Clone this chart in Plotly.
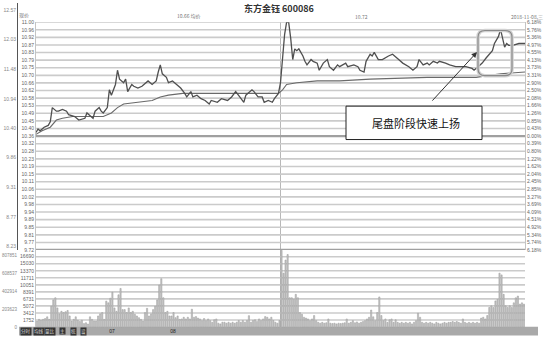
import plotly.graph_objects as go
import numpy as np

W, H = 545, 339

# ---------------- data ----------------
prev_close = 10.36
price_ticks_text = ["11.00", "10.96", "10.92", "10.87", "10.83", "10.79", "10.75", "10.70",
                    "10.66", "10.62", "10.58", "10.53", "10.49", "10.45", "10.40", "10.36",
                    "10.32", "10.28", "10.23", "10.19", "10.15", "10.11", "10.06", "10.02",
                    "9.98", "9.94", "9.89", "9.85", "9.81", "9.77", "9.72"]
pct_ticks_text = ["6.18%", "5.76%", "5.36%", "4.97%", "4.55%", "4.13%", "3.73%", "3.31%",
                  "2.90%", "2.50%", "2.08%", "1.66%", "1.26%", "0.85%", "0.43%", "0.00%",
                  "0.39%", "0.80%", "1.22%", "1.62%", "2.04%", "2.45%", "2.85%", "3.27%",
                  "3.69%", "4.09%", "4.51%", "4.92%", "5.34%", "5.74%", "6.18%"]
vol_ticks = [1752, 3412, 5072, 6731, 8391, 10051, 11711, 13370, 15030, 16690]
outer_price_ticks = [12.57, 12.03, 11.48, 10.94, 10.40, 9.86, 9.31, 8.77, 8.23]
outer_vol_ticks = [0, 203623, 402914, 608537, 807851]
time_tick_pos = [37.3, 67.2]
time_tick_text = ["07", "08"]

price_min = [0, 1, 2, 4, 6, 7, 8, 10, 11, 13, 15, 16, 19, 21, 24, 25, 27, 28, 29, 31, 32, 33, 35,
             36, 37, 39, 40, 41, 43, 44, 45, 47, 48, 50, 52, 54, 55, 57, 59, 60, 61, 62, 64, 65,
             67, 69, 71, 73, 74, 76, 77, 79, 81, 83, 85, 86, 89, 91, 94, 96, 98, 100, 102, 103,
             106, 107, 109, 111, 112, 114, 116, 117, 119,
             120, 121, 122, 123, 124, 125, 126, 127, 128, 129, 130, 131, 132, 133, 135, 136, 138,
             139, 141, 143, 144, 146, 148, 149, 152, 153, 156, 158, 159, 161, 162, 164, 165, 166,
             168, 170, 173, 175, 178, 180, 183, 185, 187, 188, 190, 192, 193, 195, 197, 198, 201,
             203, 206, 208, 211, 214, 215, 217, 219, 221, 224, 225, 227, 228, 229, 230, 231, 232,
             234, 237, 240]
price = [10.38, 10.40, 10.39, 10.41, 10.42, 10.44, 10.52, 10.50, 10.50, 10.51, 10.50, 10.48,
         10.47, 10.45, 10.46, 10.49, 10.47, 10.46, 10.50, 10.52, 10.50, 10.49, 10.52,
         10.62, 10.59, 10.65, 10.73, 10.68, 10.66, 10.68, 10.61, 10.65, 10.64, 10.63, 10.64,
         10.66, 10.67, 10.65, 10.67, 10.72, 10.76, 10.71, 10.69, 10.66, 10.67, 10.65, 10.63,
         10.60, 10.58, 10.61, 10.58, 10.59, 10.57, 10.56, 10.54, 10.56, 10.55, 10.57, 10.56,
         10.58, 10.61, 10.58, 10.55, 10.59, 10.62, 10.61, 10.58, 10.58, 10.55, 10.56, 10.55,
         10.57, 10.60,
         10.66, 10.82, 10.93, 11.00, 11.00, 10.91, 10.79, 10.85, 10.84, 10.85, 10.83, 10.81,
         10.78, 10.76, 10.79, 10.78, 10.77, 10.73, 10.77, 10.79, 10.75, 10.73, 10.76, 10.75,
         10.77, 10.75, 10.76, 10.75, 10.73, 10.72, 10.78, 10.82, 10.81, 10.83, 10.79, 10.79,
         10.81, 10.82, 10.79, 10.77, 10.75, 10.73, 10.75, 10.79, 10.76, 10.77, 10.76, 10.78,
         10.77, 10.78, 10.77, 10.76, 10.75, 10.75, 10.75, 10.74, 10.73, 10.75, 10.77, 10.80,
         10.84, 10.88, 10.92, 10.96, 10.90, 10.86, 10.88, 10.87, 10.87, 10.88, 10.88]

avg_min = [0, 3, 7, 10, 13, 18, 25, 33, 37, 40, 43, 49, 57, 61, 65, 72, 119, 121, 123, 128,
           138, 149, 164, 192, 216, 228, 240]
avg_price = [10.37, 10.39, 10.41, 10.45, 10.46, 10.47, 10.47, 10.47, 10.49, 10.52, 10.54,
             10.55, 10.56, 10.58, 10.59, 10.60, 10.60, 10.62, 10.65, 10.66, 10.67, 10.67,
             10.68, 10.69, 10.69, 10.71, 10.72]

volume = [1500, 1900, 1700, 1900, 2100, 2500, 1900, 5000, 6500, 7000,
          4600, 3200, 3800, 3500, 3700, 4000, 2700, 1500, 1900, 2500,
          1700, 1400, 1700, 900, 1100, 800, 2500, 1900, 1500, 1500,
          2700, 3200, 3500, 1900, 6200, 5800, 6900, 8300, 4600, 3800,
          7700, 9200, 4200, 4200, 3500, 4600, 3500, 3800, 3100, 2700,
          2300, 1900, 1500, 3500, 4500, 2700, 3200, 4200, 5000, 6500,
          10000, 11500, 7000, 3500, 3800, 2700, 2700, 3500, 2300, 2700,
          1900, 2000, 2400, 2000, 2400, 2000, 4300, 2400, 2550, 2200,
          2000, 1600, 2100, 1600, 2000, 1600, 1200, 1800, 2000, 1000,
          830, 1230, 1230, 1000, 1230, 1000, 1230, 1000, 1230, 1620,
          1230, 1620, 1230, 1620, 2780, 1230, 1620, 1800, 1400, 2000,
          1620, 2000, 2550, 2400, 2000, 2400, 1620, 1230, 1000, 1620,
          18200, 12800, 15900, 17200, 7000, 7000, 6600, 7800, 7000, 3500,
          3100, 2400, 2200, 2000, 1600, 2000, 2800, 1600, 1200, 1000,
          1200, 1000, 1100, 2000, 1000, 900, 1000, 830, 1000, 900,
          1000, 1100, 2000, 1000, 1200, 1600, 1100, 1300, 1000, 1200,
          1400, 1600, 2000, 2400, 4100, 2500, 1600, 3500, 7200, 2800,
          1600, 2000, 1200, 1800, 2000, 1200, 1800, 1200, 1000, 1200,
          1000, 1200, 1000, 1200, 830, 1200, 1600, 3350, 2400, 1200,
          1000, 1200, 1000, 1200, 1000, 830, 1200, 1000, 830, 1000,
          1200, 1000, 1200, 1200, 1400, 1200, 1400, 1200, 1000, 2000,
          1200, 1000, 1200, 1000, 1200, 1000, 1200, 1000, 2200, 2400,
          2000, 2800, 4700, 5100, 4700, 6260, 6600, 12800, 12400, 7800,
          5100, 4700, 5100, 4700, 5800, 7000, 7400, 5500, 5800, 5500]

# ---------------- helpers (pixel -> paper) ----------------
def px(x):
    return x / W


def py(y):
    return 1 - y / H


price_top, price_bot = 11.00, 9.72
price_tickvals = [float(v) for v in np.linspace(price_top, price_bot, len(price_ticks_text))]

# outer price axis mapping: 12.57 at y=7, 8.23 at y=248
op_slope = (12.57 - 8.23) / (248 - 7)
op_range = [12.57 - (251.5 - 7) * op_slope, 12.57 + 7 * op_slope]
# outer volume axis: 0 at y=330.6
ov_slope = (608537 - 203623) / (312 - 275)
ov_range = [-(339 - 330.6) * ov_slope, (330.6 - 251.5) * ov_slope]
# volume axis: 1752 at y=322.7, 1660 per 7.16px
v_per_px = 1660 / 7.16
vol_range = [1752 - (330.3 - 322.7) * v_per_px, 1752 + (322.7 - 251.5) * v_per_px]

GRID = "#cbcbcb"

fig = go.Figure()
for ax in ["y2", "y4", "y5"]:
    fig.add_trace(go.Scatter(x=[None], y=[None], xaxis="x", yaxis=ax, showlegend=False,
                             hoverinfo="skip"))
fig.add_trace(go.Bar(x=[m + 0.5 for m in range(len(volume))], y=volume, xaxis="x", yaxis="y3",
                     marker=dict(color="#c6c6c6", line=dict(color="#9a9a9a", width=0.5)),
                     width=0.6, hoverinfo="skip"))
fig.add_trace(go.Scatter(x=avg_min, y=avg_price, mode="lines", xaxis="x", yaxis="y",
                         line=dict(color="#6a6a6a", width=1.1), hoverinfo="skip"))
fig.add_trace(go.Scatter(x=price_min, y=price, mode="lines", xaxis="x", yaxis="y",
                         line=dict(color="#4f4f4f", width=1.3), hoverinfo="skip"))

lab_font = dict(family="Liberation Sans, Arial", size=5, color="#666")

fig.update_layout(
    width=W, height=H, margin=dict(l=0, r=0, t=0, b=0),
    paper_bgcolor="white", plot_bgcolor="rgba(0,0,0,0)", showlegend=False,
    xaxis=dict(domain=[px(36), px(525)], range=[0, 240], anchor="y3", showgrid=False,
               zeroline=False, showline=False, tickvals=time_tick_pos, ticktext=time_tick_text,
               ticks="", tickfont=dict(family="Liberation Sans", size=5, color="#222")),
    yaxis=dict(domain=[py(251.5), py(19.5)], range=[price_bot, price_top], anchor="x",
               tickvals=price_tickvals, ticktext=price_ticks_text, tickfont=lab_font,
               showgrid=False, zeroline=False,
               showline=True, linecolor="#c4c4c4", linewidth=1, ticks=""),
    yaxis2=dict(domain=[py(251.5), py(19.5)], range=[price_bot, price_top], anchor="x",
                overlaying="y", side="right", tickvals=price_tickvals, ticktext=pct_ticks_text,
                tickfont=lab_font, showgrid=False, zeroline=False, showline=True,
                linecolor="#c4c4c4", linewidth=1, ticks=""),
    yaxis3=dict(domain=[py(330.3), py(251.5)], range=vol_range, anchor="x",
                tickvals=vol_ticks, ticktext=[str(v) for v in vol_ticks], tickfont=lab_font,
                showgrid=False, zeroline=False, showline=True,
                linecolor="#c4c4c4", linewidth=1, ticks=""),
    yaxis4=dict(domain=[py(251.5), 1], range=op_range, anchor="free", position=px(17),
                tickvals=outer_price_ticks, ticktext=[f"{v:.2f}" for v in outer_price_ticks],
                tickfont=dict(family="Liberation Sans", size=5, color="#888"),
                showgrid=False, zeroline=False, showline=True, linecolor="#555",
                linewidth=1, ticks=""),
    yaxis5=dict(domain=[0, py(251.5)], range=ov_range, anchor="free", position=px(17),
                tickvals=outer_vol_ticks, ticktext=[str(v) for v in outer_vol_ticks],
                tickfont=dict(family="Liberation Sans", size=4.5, color="#888"),
                showgrid=False, zeroline=False, showline=False, ticks=""),
)

shapes = []
# bottom grey toolbar
shapes.append(dict(type="rect", xref="paper", yref="paper", x0=px(19), x1=px(538),
                   y0=py(338.5), y1=py(329.5), fillcolor="#a9a9a9", line=dict(width=0),
                   layer="below"))
# horizontal grid lines at the tick values of both panes
for v in price_tickvals:
    shapes.append(dict(type="line", xref="x", yref="y", x0=0, x1=240, y0=v, y1=v,
                       line=dict(color=GRID, width=1.6), layer="below"))
for v in vol_ticks:
    shapes.append(dict(type="line", xref="x", yref="y3", x0=0, x1=240, y0=v, y1=v,
                       line=dict(color=GRID, width=1.6), layer="below"))
# thick reference lines at previous close and the bottom of the price pane
for lvl in [prev_close, price_bot]:
    shapes.append(dict(type="line", xref="x", yref="y", x0=0, x1=240, y0=lvl, y1=lvl,
                       line=dict(color="#a0a0a0", width=2.4), layer="below"))
# noon divider
shapes.append(dict(type="line", xref="x", yref="paper", x0=120, x1=120, y0=py(330.3),
                   y1=py(19.5), line=dict(color="#b8b8b8", width=1), layer="below"))
# annotation box
shapes.append(dict(type="rect", xref="paper", yref="paper", x0=px(346), x1=px(482),
                   y0=py(139), y1=py(105), fillcolor="white", line=dict(color="#222", width=1)))


def rounded(x0, y0, x1, y1, r):
    pts = [("M", x0 + r, y0), ("L", x1 - r, y0), ("Q", x1, y0, x1, y0 + r), ("L", x1, y1 - r),
           ("Q", x1, y1, x1 - r, y1), ("L", x0 + r, y1), ("Q", x0, y1, x0, y1 - r),
           ("L", x0, y0 + r), ("Q", x0, y0, x0 + r, y0)]
    out = []
    for p in pts:
        cmd = p[0]
        coords = p[1:]
        s = " ".join(f"{px(coords[i]):.5f},{py(coords[i + 1]):.5f}" for i in range(0, len(coords), 2))
        out.append(f"{cmd} {s}")
    return " ".join(out) + " Z"


path = rounded(478, 28, 512, 74, 7)
shapes.append(dict(type="path", xref="paper", yref="paper", path=path,
                   line=dict(color="#d2d2d2", width=3.5)))
shapes.append(dict(type="path", xref="paper", yref="paper", path=path,
                   line=dict(color="#8a8a8a", width=1.2)))
fig.update_layout(shapes=shapes)

ann = []
ann.append(dict(xref="paper", yref="paper", x=px(279), y=py(5.5), text="<b>东方金钰 600086</b>",
                showarrow=False, xanchor="center", yanchor="middle",
                font=dict(family="Noto Sans CJK SC", size=9, color="#333")))
small = dict(family="Noto Sans CJK SC, Liberation Sans", size=5, color="#777")
for txt, xx, yy in [("现价", 24, 12.5), ("10.66 均价", 189, 13.5), ("10.72", 361, 13.5),
                    ("2018-11-08,三", 527, 13.5)]:
    ann.append(dict(xref="paper", yref="paper", x=px(xx), y=py(yy), text=txt,
                    xanchor="center", yanchor="middle", showarrow=False, font=small))
ann.append(dict(xref="paper", yref="paper", x=px(416), y=py(122.5), text="尾盘阶段快速上扬",
                xanchor="center", yanchor="middle", showarrow=False,
                font=dict(family="Noto Sans CJK SC", size=11, color="#111")))
ann.append(dict(xref="paper", yref="paper", x=px(477), y=py(50), axref="pixel", ayref="pixel",
                ax=431 - 477, ay=100 - 50, text="", showarrow=True, arrowhead=2, arrowsize=1.1,
                arrowwidth=1, arrowcolor="#333", standoff=0))
for txt, xx in [("分时", 25.5), ("均线", 38.5), ("量比", 50), ("主", 62), ("统", 73.5), ("设", 83.5)]:
    ann.append(dict(xref="paper", yref="paper", x=px(xx), y=py(334), text=txt, showarrow=False,
                    xanchor="center", yanchor="middle", bgcolor="#333", borderpad=0,
                    font=dict(family="Noto Sans CJK SC", size=4.5, color="#ddd")))
fig.update_layout(annotations=ann)

fig.write_html("out.html")
